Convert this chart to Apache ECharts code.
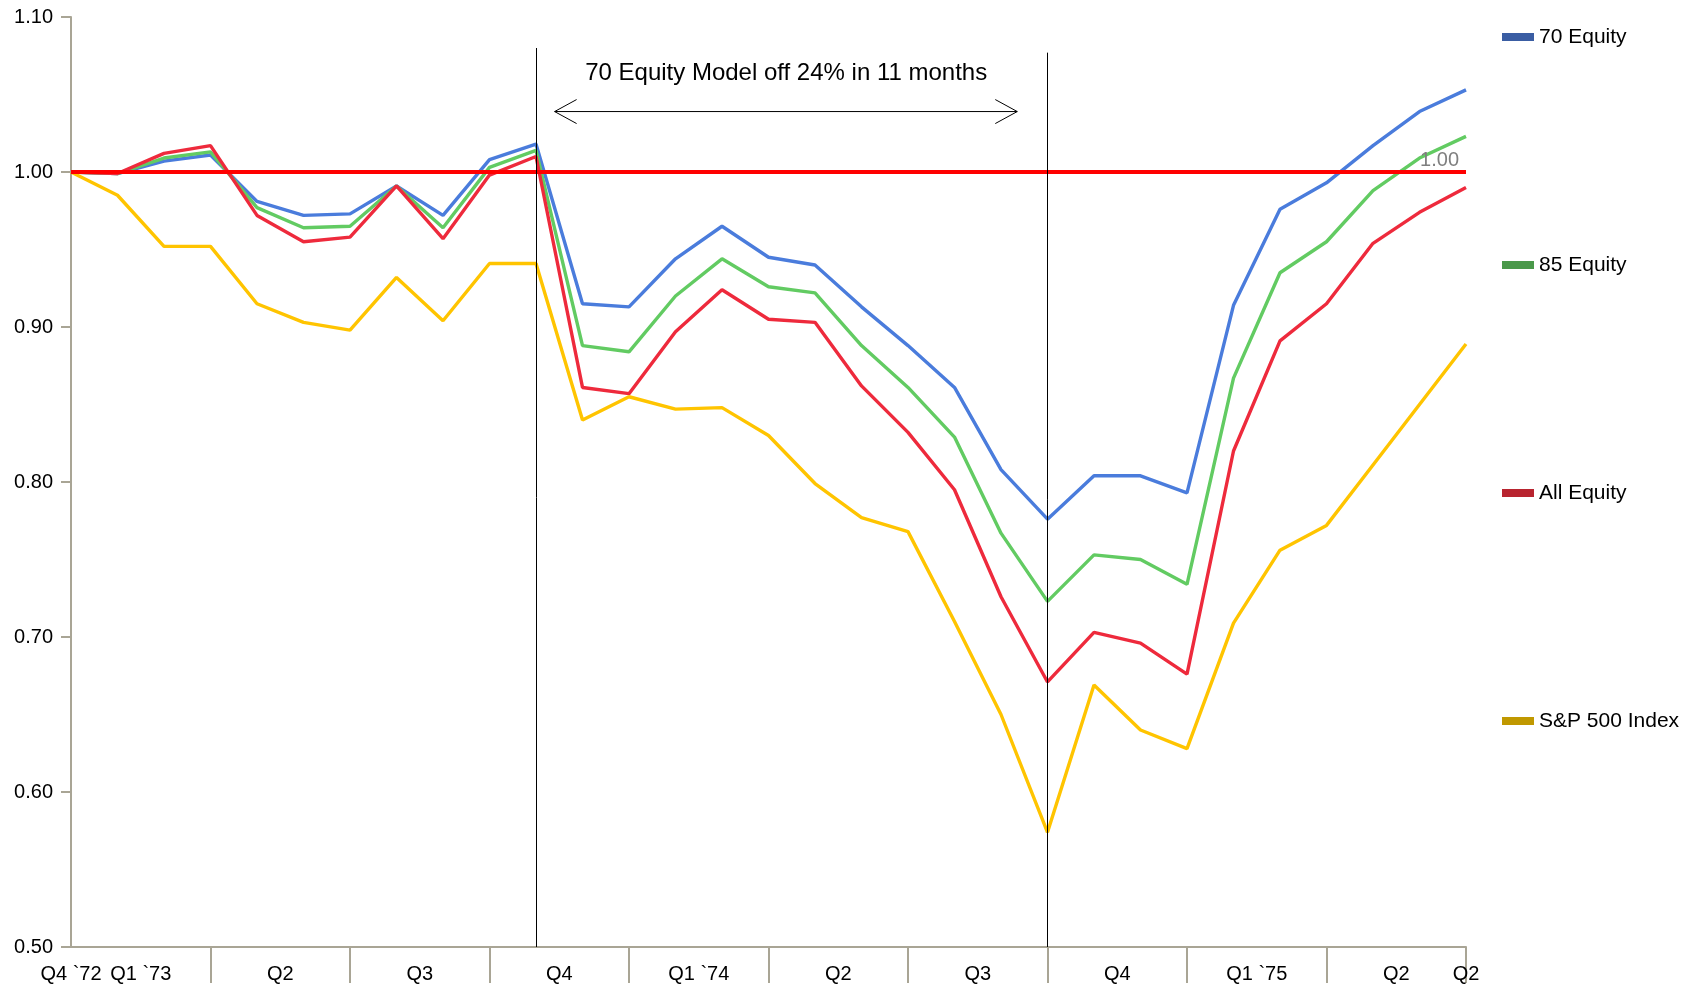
<!DOCTYPE html>
<html><head><meta charset="utf-8">
<script src="https://cdn.jsdelivr.net/npm/echarts@6/dist/echarts.min.js"></script>
<style>html,body{margin:0;padding:0;background:#fff}#c{width:1694px;height:988px}</style>
</head><body><div id="c"></div>
<script>
// ---------- data ----------
const months = ['Dec 72','Jan 73','Feb 73','Mar 73','Apr 73','May 73','Jun 73','Jul 73','Aug 73','Sep 73','Oct 73','Nov 73',
  'Dec 73','Jan 74','Feb 74','Mar 74','Apr 74','May 74','Jun 74','Jul 74','Aug 74','Sep 74','Oct 74','Nov 74',
  'Dec 74','Jan 75','Feb 75','Mar 75','Apr 75','May 75','Jun 75'];
const endLabels = ['Q4 `72', 'Q2'];
const quarterLabels = ['Q1 `73','Q2','Q3','Q4','Q1 `74','Q2','Q3','Q4','Q1 `75','Q2'];
const yTicks = { min: 0.5, max: 1.1, step: 0.1 };

const equity70 = [1.000,0.999,1.007,1.011,0.981,0.972,0.973,0.991,0.972,1.008,1.018,0.915,0.913,0.944,0.965,0.945,0.940,0.913,0.888,0.861,0.808,0.776,0.804,0.804,0.793,0.914,0.976,0.993,1.017,1.039,1.053];
const equity85 = [1.000,0.999,1.009,1.013,0.977,0.964,0.965,0.991,0.964,1.003,1.014,0.888,0.884,0.920,0.944,0.926,0.922,0.888,0.861,0.829,0.767,0.723,0.753,0.750,0.734,0.867,0.935,0.955,0.988,1.009,1.023];
const allEquity = [1.000,0.999,1.012,1.017,0.972,0.955,0.958,0.991,0.957,0.998,1.010,0.861,0.857,0.897,0.924,0.905,0.903,0.862,0.832,0.795,0.726,0.671,0.703,0.696,0.676,0.820,0.891,0.915,0.954,0.974,0.990];
const sp500 = [1.000,0.985,0.952,0.952,0.915,0.903,0.898,0.932,0.904,0.941,0.941,0.840,0.855,0.847,0.848,0.830,0.799,0.777,0.768,0.710,0.650,0.574,0.669,0.640,0.628,0.709,0.756,0.772,0.811,0.850,0.889];

const seriesNames = ['70 Equity','85 Equity','All Equity','S&P 500 Index'];
const baseline = 1.00;
const periodMarkers = [[10, 1.080], [21, 1.077]]; // [month index, top value]
const annotationText = '70 Equity Model off 24% in 11 months';
const annotationAt = [15.38, 1.0635];
const arrowSpan = [10.4, 20.35, 1.039];

// ---------- style ----------
const FONT = 'Liberation Sans, Arial, sans-serif';
const lineColors = ['#4A7CDC','#62CB62','#EE2A3C','#FFC400'];
const legendColors = ['#3A5DA3','#4A994A','#B8242F','#C09800'];
const legendCenters = [37, 265, 493, 721];
const axisGray = '#A9A595';

const chart = echarts.init(document.getElementById('c'), null, {renderer:'canvas'});
const dataSets = [equity70, equity85, allEquity, sp500];

const series = seriesNames.map((name, i) => ({
  name, type: 'line', data: dataSets[i], xAxisIndex: 0, yAxisIndex: 0,
  symbol: 'none', showSymbol: false, smooth: false, z: 2 + i,
  lineStyle: { color: lineColors[i], width: 3.4 },
  itemStyle: { color: lineColors[i] },
  animation: false
}));
series[0].markLine = {
  silent: true, symbol: 'none', animation: false, z: 10,
  data: [
    { yAxis: baseline, lineStyle: { color: '#FF0000', width: 4, type: 'solid' },
      label: { show: true, position: 'insideEndTop', formatter: baseline.toFixed(2), color: '#7F7F7F',
               fontSize: 20, fontFamily: FONT, distance: [7, 2] } },
    ...periodMarkers.map(m => [
      { coord: [m[0], m[1]], lineStyle: { color: '#000', width: 1, type: 'solid' }, label: { show: false } },
      { coord: [m[0], yTicks.min] }
    ])
  ]
};

chart.setOption({
  backgroundColor: '#fff',
  animation: false,
  grid: { left: 71, right: 228, top: 17, bottom: 41, containLabel: false },
  xAxis: [
    { type: 'category', data: months, boundaryGap: false, position: 'bottom',
      axisLine: { show: true, lineStyle: { color: axisGray, width: 2 } },
      axisTick: { show: true, length: 36, interval: (i) => i > 0 && i % 3 === 0, lineStyle: { color: axisGray, width: 2 } },
      axisLabel: { interval: (i) => i === 0 || i === months.length - 1, margin: 17,
        formatter: (v, i) => i === 0 ? endLabels[0] : endLabels[1],
        color: '#000', fontSize: 20, fontFamily: FONT },
      splitLine: { show: false } },
    { type: 'category', data: quarterLabels.map((q, i) => 'q' + i), boundaryGap: true, position: 'bottom', gridIndex: 0,
      axisLine: { show: false }, axisTick: { show: false }, splitLine: { show: false },
      axisLabel: { interval: 0, margin: 17, formatter: (v, i) => quarterLabels[i],
        color: '#000', fontSize: 20, fontFamily: FONT } }
  ],
  yAxis: {
    type: 'value', min: yTicks.min, max: yTicks.max, interval: yTicks.step,
    axisLine: { show: true, lineStyle: { color: axisGray, width: 2 } },
    axisTick: { show: true, length: 10, lineStyle: { color: axisGray, width: 2 } },
    axisLabel: { formatter: v => v.toFixed(2), color: '#000', fontSize: 20, fontFamily: FONT, margin: 18 },
    splitLine: { show: false }
  },
  legend: seriesNames.map((name, i) => ({
    data: [{ name, icon: 'rect', itemStyle: { color: legendColors[i] } }],
    orient: 'vertical', left: 1502, top: legendCenters[i] - 11, padding: 0,
    itemWidth: 32, itemHeight: 8, selectedMode: false,
    textStyle: { color: '#000', fontSize: 21, lineHeight: 22, fontFamily: FONT }
  })),
  series
});

// ---------- annotation (positioned through the axes) ----------
function px(f, v) {
  const a = chart.convertToPixel({ xAxisIndex: 0, yAxisIndex: 0 }, [0, v]);
  const b = chart.convertToPixel({ xAxisIndex: 0, yAxisIndex: 0 }, [months.length - 1, v]);
  return [a[0] + (b[0] - a[0]) * f / (months.length - 1), a[1]];
}
const t = px(annotationAt[0], annotationAt[1]);
const p1 = px(arrowSpan[0], arrowSpan[2]);
const p2 = px(arrowSpan[1], arrowSpan[2]);
const hl = 22, hw = 12;
chart.setOption({
  graphic: [
    { type: 'text', x: t[0], y: t[1], z: 20,
      style: { text: annotationText, fill: '#000', font: '24px ' + FONT, textAlign: 'center', textVerticalAlign: 'middle' } },
    { type: 'line', z: 20, shape: { x1: p1[0], y1: p1[1], x2: p2[0], y2: p2[1] }, style: { stroke: '#000', lineWidth: 1 } },
    { type: 'polyline', z: 20, shape: { points: [[p1[0] + hl, p1[1] - hw], [p1[0], p1[1]], [p1[0] + hl, p1[1] + hw]] },
      style: { stroke: '#000', lineWidth: 1, fill: null } },
    { type: 'polyline', z: 20, shape: { points: [[p2[0] - hl, p2[1] - hw], [p2[0], p2[1]], [p2[0] - hl, p2[1] + hw]] },
      style: { stroke: '#000', lineWidth: 1, fill: null } }
  ]
});
</script></body></html>
